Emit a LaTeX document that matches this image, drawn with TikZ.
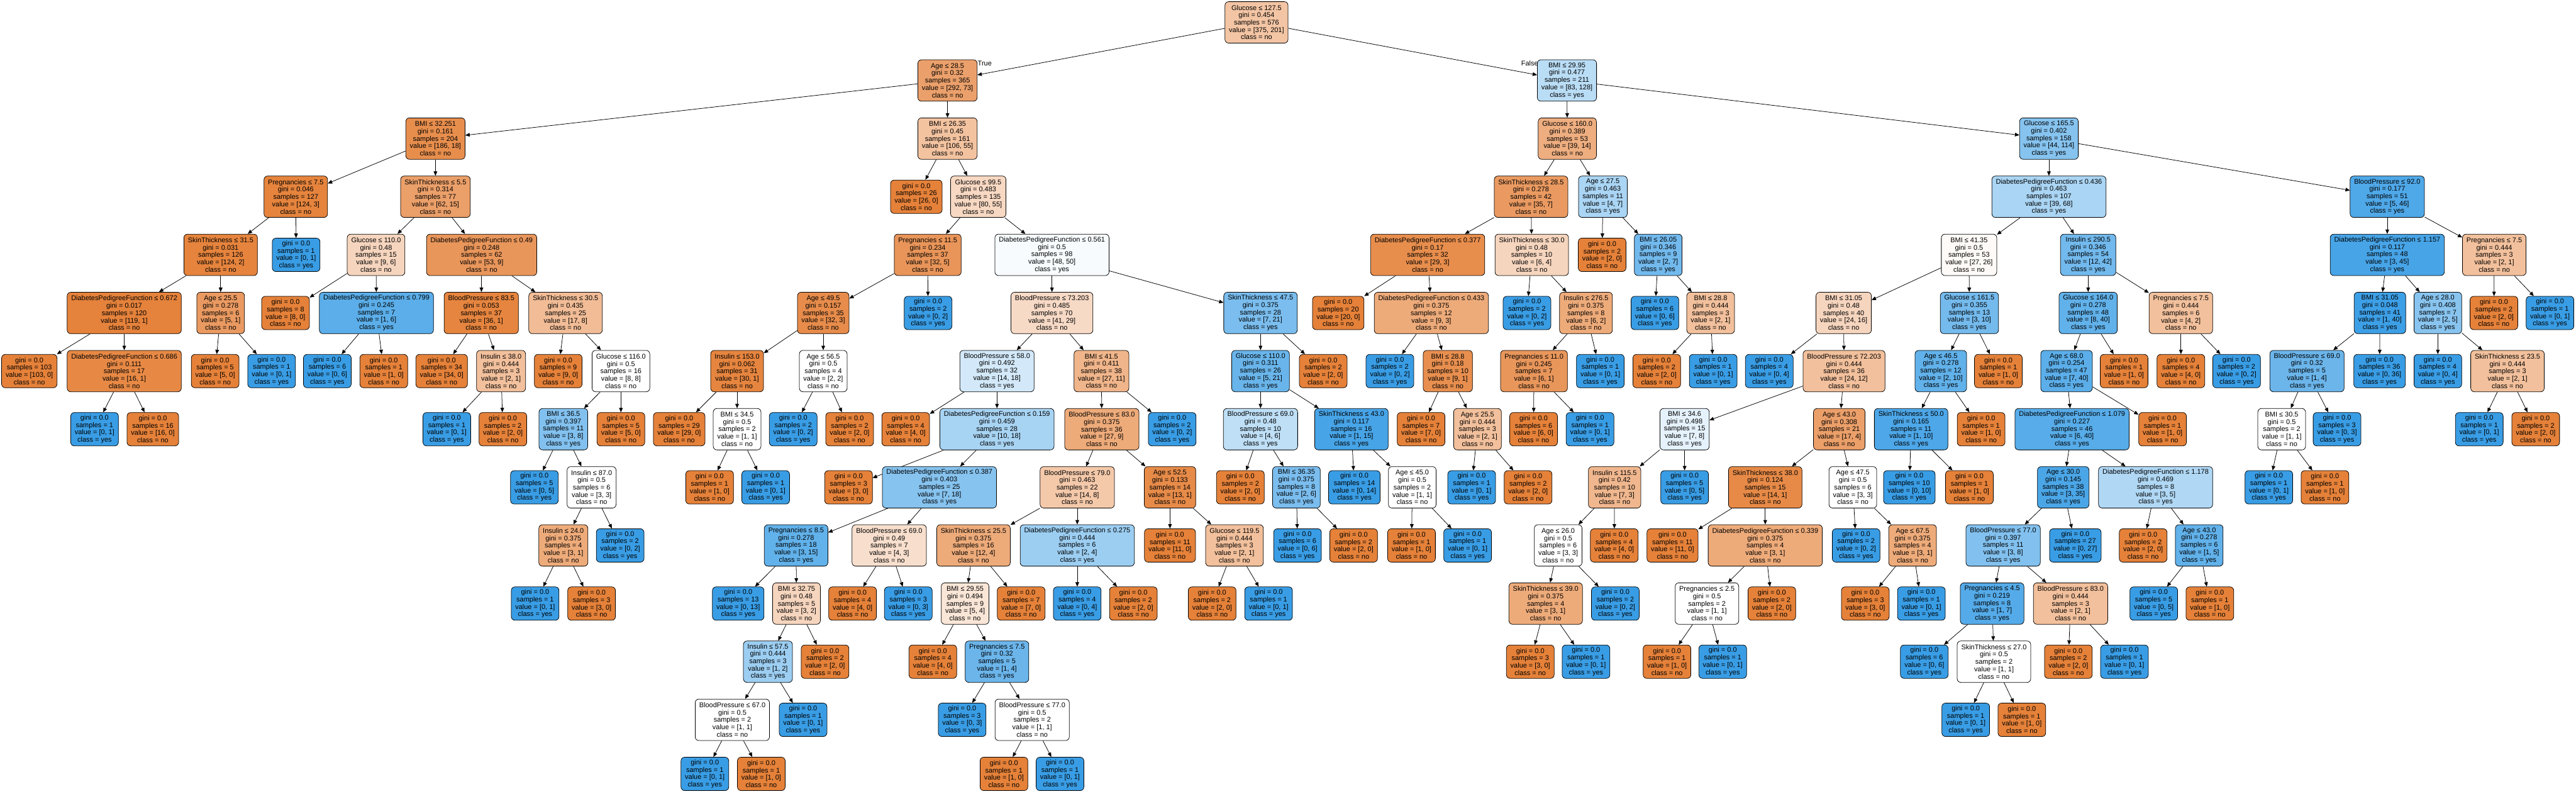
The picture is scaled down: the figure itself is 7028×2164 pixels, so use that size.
\documentclass[tikz,border=0pt]{standalone}
\usepackage{fontspec}
\setmainfont{Liberation Sans}
\usetikzlibrary{arrows.meta}
\definecolor{cno}{RGB}{229,129,57}
\definecolor{cyes}{RGB}{57,157,229}
\newcommand\tfont{\fontsize{18.8}{20.1}\selectfont}
\newcommand\setcls[2]{%
  \ifnum#1<#2\relax
    \def\tcls{yes}\def\tcol{cyes}%
    \edef\tpct{\the\numexpr(100*(#2-#1))/#2\relax}%
  \else
    \def\tcls{no}\def\tcol{cno}%
    \edef\tpct{\the\numexpr(100*(#1-#2))/#1\relax}%
  \fi}
\newcommand\setY[1]{\ifnum#1=13 \def\ty{2110.5}\else\pgfmathsetmacro\ty{61+158.5*#1}\fi}
% name parent x level cond gini a b
\newcommand\tnode[8]{%
  \setcls{#7}{#8}\setY{#4}%
  \node[tbox, fill=\tcol!\tpct!white] (#1) at (#3,\ty) {#5\\gini = #6\\samples = \the\numexpr#7+#8\relax\\value = [#7, #8]\\class = \tcls};
  \ifx\relax#2\relax\else\draw[tedge] (#2) -- (#1);\fi}
% name parent x level a b
\newcommand\lnode[6]{%
  \setcls{#5}{#6}\setY{#4}%
  \node[tbox, tleaf, fill=\tcol!\tpct!white] (#1) at (#3,\ty) {gini = 0.0\\samples = \the\numexpr#5+#6\relax\\value = [#5, #6]\\class = \tcls};
  \draw[tedge] (#2) -- (#1);}
\begin{document}
\begin{tikzpicture}[x=1pt,y=-1pt,
  tbox/.style={draw=black, line width=1.3pt, rounded corners=10pt, align=center,
    inner xsep=11pt, inner ysep=0pt, minimum height=113pt, font=\tfont, text=black},
  tleaf/.style={minimum height=91pt},
  tedge/.style={-{Triangle[length=12pt,width=10pt]}, line width=1.3pt, black},
  lbl/.style={font=\tfont, inner sep=0pt}]
\fill[white] (0,0) rectangle (7028,2164);
\useasboundingbox (0,0) rectangle (7028,2164);
% level 0-2
\tnode{t}{}{3428}{0}{Glucose ≤ 127.5}{0.454}{375}{201}
\tnode{n1}{t}{2585}{1}{Age ≤ 28.5}{0.32}{292}{73}
\tnode{n2}{t}{4275}{1}{BMI ≤ 29.95}{0.477}{83}{128}
\tnode{a}{n1}{1188}{2}{BMI ≤ 32.251}{0.161}{186}{18}
\tnode{b}{n1}{2585}{2}{BMI ≤ 26.35}{0.45}{106}{55}
\tnode{c}{n2}{4276}{2}{Glucose ≤ 160.0}{0.389}{39}{14}
\tnode{d}{n2}{5590}{2}{Glucose ≤ 165.5}{0.402}{44}{114}
% level 3
\tnode{aa}{a}{807}{3}{Pregnancies ≤ 7.5}{0.046}{124}{3}
\tnode{ab}{a}{1188}{3}{SkinThickness ≤ 5.5}{0.314}{62}{15}
\lnode{ba}{b}{2500}{3}{26}{0}
\tnode{bb}{b}{2669}{3}{Glucose ≤ 99.5}{0.483}{80}{55}
\tnode{ca}{c}{4177}{3}{SkinThickness ≤ 28.5}{0.278}{35}{7}
\tnode{cb}{c}{4373}{3}{Age ≤ 27.5}{0.463}{4}{7}
\tnode{da}{d}{5590}{3}{DiabetesPedigreeFunction ≤ 0.436}{0.463}{39}{68}
\tnode{db}{d}{6513}{3}{BloodPressure ≤ 92.0}{0.177}{5}{46}
% level 4
\tnode{aaa}{aa}{602}{4}{SkinThickness ≤ 31.5}{0.031}{124}{2}
\lnode{aab}{aa}{808}{4}{0}{1}
\tnode{aba}{ab}{1026}{4}{Glucose ≤ 110.0}{0.48}{9}{6}
\tnode{abb}{ab}{1314}{4}{DiabetesPedigreeFunction ≤ 0.49}{0.248}{53}{9}
\tnode{bba}{bb}{2531}{4}{Pregnancies ≤ 11.5}{0.234}{32}{5}
\tnode{bbb}{bb}{2870}{4}{DiabetesPedigreeFunction ≤ 0.561}{0.5}{48}{50}
\tnode{caa}{ca}{3895}{4}{DiabetesPedigreeFunction ≤ 0.377}{0.17}{29}{3}
\tnode{cab}{ca}{4179}{4}{SkinThickness ≤ 30.0}{0.48}{6}{4}
\lnode{cba}{cb}{4371}{4}{2}{0}
\tnode{cbb}{cb}{4524}{4}{BMI ≤ 26.05}{0.346}{2}{7}
\tnode{daa}{da}{5372}{4}{BMI ≤ 41.35}{0.5}{27}{26}
\tnode{dab}{da}{5697}{4}{Insulin ≤ 290.5}{0.346}{12}{42}
\tnode{dba}{db}{6513}{4}{DiabetesPedigreeFunction ≤ 1.157}{0.117}{3}{45}
\tnode{dbb}{db}{6805}{4}{Pregnancies ≤ 7.5}{0.444}{2}{1}
% level 5
\tnode{aaaa}{aaa}{339}{5}{DiabetesPedigreeFunction ≤ 0.672}{0.017}{119}{1}
\tnode{aaab}{aaa}{602}{5}{Age ≤ 25.5}{0.278}{5}{1}
\lnode{abaa}{aba}{779}{5}{8}{0}
\tnode{abab}{aba}{1027}{5}{DiabetesPedigreeFunction ≤ 0.799}{0.245}{1}{6}
\tnode{abba}{abb}{1313}{5}{BloodPressure ≤ 83.5}{0.053}{36}{1}
\tnode{abbb}{abb}{1543}{5}{SkinThickness ≤ 30.5}{0.435}{17}{8}
\tnode{bbaa}{bba}{2246}{5}{Age ≤ 49.5}{0.157}{32}{3}
\lnode{bbab}{bba}{2532}{5}{0}{2}
\tnode{bbba}{bbb}{2870}{5}{BloodPressure ≤ 73.203}{0.485}{41}{29}
\tnode{bbbb}{bbb}{3439}{5}{SkinThickness ≤ 47.5}{0.375}{7}{21}
\lnode{caaa}{caa}{3651}{5}{20}{0}
\tnode{caab}{caa}{3905}{5}{DiabetesPedigreeFunction ≤ 0.433}{0.375}{9}{3}
\lnode{caba}{cab}{4166}{5}{0}{2}
\tnode{cabb}{cab}{4327}{5}{Insulin ≤ 276.5}{0.375}{6}{2}
\lnode{cbba}{cbb}{4515}{5}{0}{6}
\tnode{cbbb}{cbb}{4667}{5}{BMI ≤ 28.8}{0.444}{2}{1}
\tnode{daaa}{daa}{5030}{5}{BMI ≤ 31.05}{0.48}{24}{16}
\tnode{daab}{daa}{5373}{5}{Glucose ≤ 161.5}{0.355}{3}{10}
\tnode{daba}{dab}{5697}{5}{Glucose ≤ 164.0}{0.278}{8}{40}
\tnode{dabb}{dab}{5950}{5}{Pregnancies ≤ 7.5}{0.444}{4}{2}
\tnode{dbaa}{dba}{6493}{5}{BMI ≤ 31.05}{0.048}{1}{40}
\tnode{dbab}{dba}{6651}{5}{Age ≤ 28.0}{0.408}{2}{5}
\lnode{dbba}{dbb}{6804}{5}{2}{0}
\lnode{dbbb}{dbb}{6957}{5}{0}{1}
% level 6
\lnode{aaaaa}{aaaa}{80}{6}{103}{0}
\tnode{aaaab}{aaaa}{339}{6}{DiabetesPedigreeFunction ≤ 0.686}{0.111}{16}{1}
\lnode{aaaba}{aaab}{587}{6}{5}{0}
\lnode{aaabb}{aaab}{741}{6}{0}{1}
\lnode{ababa}{abab}{893}{6}{0}{6}
\lnode{ababb}{abab}{1047}{6}{1}{0}
\lnode{abbaa}{abba}{1205}{6}{34}{0}
\tnode{abbab}{abba}{1367}{6}{Insulin ≤ 38.0}{0.444}{2}{1}
\lnode{abbba}{abbb}{1523}{6}{9}{0}
\tnode{abbbb}{abbb}{1694}{6}{Glucose ≤ 116.0}{0.5}{8}{8}
\tnode{bbaaa}{bbaa}{2011}{6}{Insulin ≤ 153.0}{0.062}{30}{1}
\tnode{bbaab}{bbaa}{2246}{6}{Age ≤ 56.5}{0.5}{2}{2}
\tnode{bbbaa}{bbba}{2720}{6}{BloodPressure ≤ 58.0}{0.492}{14}{18}
\tnode{bbbab}{bbba}{3005}{6}{BMI ≤ 41.5}{0.411}{27}{11}
\tnode{bbbba}{bbbb}{3439}{6}{Glucose ≤ 110.0}{0.311}{5}{21}
\lnode{bbbbb}{bbbb}{3610}{6}{2}{0}
\lnode{caaba}{caab}{3792}{6}{0}{2}
\tnode{caabb}{caab}{3950}{6}{BMI ≤ 28.8}{0.18}{9}{1}
\tnode{cabba}{cabb}{4185}{6}{Pregnancies ≤ 11.0}{0.245}{6}{1}
\lnode{cabbb}{cabb}{4366}{6}{0}{1}
\lnode{cbbba}{cbbb}{4520}{6}{2}{0}
\lnode{cbbbb}{cbbb}{4674}{6}{0}{1}
\lnode{daaaa}{daaa}{4827}{6}{0}{4}
\tnode{daaab}{daaa}{5031}{6}{BloodPressure ≤ 72.203}{0.444}{24}{12}
\tnode{daaba}{daab}{5295}{6}{Age ≤ 46.5}{0.278}{2}{10}
\lnode{daabb}{daab}{5452}{6}{1}{0}
\tnode{dabaa}{daba}{5638}{6}{Age ≤ 68.0}{0.254}{7}{40}
\lnode{dabab}{daba}{5795}{6}{1}{0}
\lnode{dabba}{dabb}{5950}{6}{4}{0}
\lnode{dabbb}{dabb}{6102}{6}{0}{2}
\tnode{dbaaa}{dbaa}{6294}{6}{BloodPressure ≤ 69.0}{0.32}{1}{4}
\lnode{dbaab}{dbaa}{6492}{6}{0}{36}
\lnode{dbaba}{dbab}{6651}{6}{0}{4}
\tnode{dbabb}{dbab}{6841}{6}{SkinThickness ≤ 23.5}{0.444}{2}{1}
% level 7
\lnode{aaaaba}{aaaab}{258}{7}{0}{1}
\lnode{aaaabb}{aaaab}{417}{7}{16}{0}
\lnode{abbaba}{abbab}{1219}{7}{0}{1}
\lnode{abbabb}{abbab}{1372}{7}{2}{0}
\tnode{abbbba}{abbbb}{1537}{7}{BMI ≤ 36.5}{0.397}{3}{8}
\lnode{abbbbb}{abbbb}{1694}{7}{5}{0}
\lnode{bbaaaa}{bbaaa}{1853}{7}{29}{0}
\tnode{bbaaab}{bbaaa}{2011}{7}{BMI ≤ 34.5}{0.5}{1}{1}
\lnode{bbaaba}{bbaab}{2164}{7}{0}{2}
\lnode{bbaabb}{bbaab}{2318}{7}{2}{0}
\lnode{bbbaaa}{bbbaa}{2471}{7}{4}{0}
\tnode{bbbaab}{bbbaa}{2720}{7}{DiabetesPedigreeFunction ≤ 0.159}{0.459}{10}{18}
\tnode{bbbaba}{bbbab}{3006}{7}{BloodPressure ≤ 83.0}{0.375}{27}{9}
\lnode{bbbabb}{bbbab}{3198}{7}{0}{2}
\tnode{bbbbaa}{bbbba}{3439}{7}{BloodPressure ≤ 69.0}{0.48}{4}{6}
\tnode{bbbbab}{bbbba}{3687}{7}{SkinThickness ≤ 43.0}{0.117}{1}{15}
\lnode{caabba}{caabb}{3877}{7}{7}{0}
\tnode{caabbb}{caabb}{4031}{7}{Age ≤ 25.5}{0.444}{2}{1}
\lnode{cabbaa}{cabba}{4184}{7}{6}{0}
\lnode{cabbab}{cabba}{4338}{7}{0}{1}
\tnode{daaaba}{daaab}{4596}{7}{BMI ≤ 34.6}{0.498}{7}{8}
\tnode{daaabb}{daaab}{5018}{7}{Age ≤ 43.0}{0.308}{17}{4}
\tnode{daabaa}{daaba}{5214}{7}{SkinThickness ≤ 50.0}{0.165}{1}{10}
\lnode{daabab}{daaba}{5405}{7}{1}{0}
\tnode{dabaaa}{dabaa}{5653}{7}{DiabetesPedigreeFunction ≤ 1.079}{0.227}{6}{40}
\lnode{dabaab}{dabaa}{5900}{7}{1}{0}
\tnode{dbaaaa}{dbaaa}{6225}{7}{BMI ≤ 30.5}{0.5}{1}{1}
\lnode{dbaaab}{dbaaa}{6376}{7}{0}{3}
\lnode{dbabba}{dbabb}{6764}{7}{0}{1}
\lnode{dbabbb}{dbabb}{6918}{7}{2}{0}
% level 8
\lnode{abbbbaa}{abbbba}{1458}{8}{0}{5}
\tnode{abbbbab}{abbbba}{1614}{8}{Insulin ≤ 87.0}{0.5}{3}{3}
\lnode{bbaaaba}{bbaaab}{1936}{8}{1}{0}
\lnode{bbaaabb}{bbaaab}{2089}{8}{0}{1}
\lnode{bbbaaba}{bbbaab}{2315}{8}{3}{0}
\tnode{bbbaabb}{bbbaab}{2563}{8}{DiabetesPedigreeFunction ≤ 0.387}{0.403}{7}{18}
\tnode{bbbabaa}{bbbaba}{2939}{8}{BloodPressure ≤ 79.0}{0.463}{14}{8}
\tnode{bbbabab}{bbbaba}{3192}{8}{Age ≤ 52.5}{0.133}{13}{1}
\lnode{bbbbaaa}{bbbbaa}{3384}{8}{2}{0}
\tnode{bbbbaab}{bbbbaa}{3537}{8}{BMI ≤ 36.35}{0.375}{2}{6}
\lnode{bbbbaba}{bbbbab}{3695}{8}{0}{14}
\tnode{bbbbabb}{bbbbab}{3853}{8}{Age ≤ 45.0}{0.5}{1}{1}
\lnode{caabbba}{caabbb}{4015}{8}{0}{1}
\lnode{caabbbb}{caabbb}{4169}{8}{2}{0}
\tnode{daaabaa}{daaaba}{4405}{8}{Insulin ≤ 115.5}{0.42}{7}{3}
\lnode{daaabab}{daaaba}{4596}{8}{0}{5}
\tnode{daaabba}{daaabb}{4816}{8}{SkinThickness ≤ 38.0}{0.124}{14}{1}
\tnode{daaabbb}{daaabb}{5055}{8}{Age ≤ 47.5}{0.5}{3}{3}
\lnode{daabaaa}{daabaa}{5209}{8}{0}{10}
\lnode{daabaab}{daabaa}{5373}{8}{1}{0}
\tnode{dabaaaa}{dabaaa}{5629}{8}{Age ≤ 30.0}{0.145}{3}{35}
\tnode{dabaaab}{dabaaa}{5881}{8}{DiabetesPedigreeFunction ≤ 1.178}{0.469}{3}{5}
\lnode{dbaaaaa}{dbaaaa}{6190}{8}{0}{1}
\lnode{dbaaaab}{dbaaaa}{6343}{8}{1}{0}
% level 9
\tnode{abbbbaba}{abbbbab}{1537}{9}{Insulin ≤ 24.0}{0.375}{3}{1}
\lnode{abbbbabb}{abbbbab}{1692}{9}{0}{2}
\tnode{bbbaabba}{bbbaabb}{2172}{9}{Pregnancies ≤ 8.5}{0.278}{3}{15}
\tnode{bbbaabbb}{bbbaabb}{2426}{9}{BloodPressure ≤ 69.0}{0.49}{4}{3}
\tnode{bbbabaaa}{bbbabaa}{2656}{9}{SkinThickness ≤ 25.5}{0.375}{12}{4}
\tnode{bbbabaab}{bbbabaa}{2939}{9}{DiabetesPedigreeFunction ≤ 0.275}{0.444}{2}{4}
\lnode{bbbababa}{bbbabab}{3192}{9}{11}{0}
\tnode{bbbababb}{bbbabab}{3368}{9}{Glucose ≤ 119.5}{0.444}{2}{1}
\lnode{bbbbaaba}{bbbbaab}{3540}{9}{0}{6}
\lnode{bbbbaabb}{bbbbaab}{3693}{9}{2}{0}
\lnode{bbbbabba}{bbbbabb}{3851}{9}{1}{0}
\lnode{bbbbabbb}{bbbbabb}{4004}{9}{0}{1}
\tnode{daaabaaa}{daaabaa}{4251}{9}{Age ≤ 26.0}{0.5}{3}{3}
\lnode{daaabaab}{daaabaa}{4404}{9}{4}{0}
\lnode{daaabbaa}{daaabba}{4563}{9}{11}{0}
\tnode{daaabbab}{daaabba}{4816}{9}{DiabetesPedigreeFunction ≤ 0.339}{0.375}{3}{1}
\lnode{daaabbba}{daaabbb}{5064}{9}{0}{2}
\tnode{daaabbbb}{daaabbb}{5218}{9}{Age ≤ 67.5}{0.375}{3}{1}
\tnode{dabaaaaa}{dabaaaa}{5465}{9}{BloodPressure ≤ 77.0}{0.397}{3}{8}
\lnode{dabaaaab}{dabaaaa}{5662}{9}{0}{27}
\lnode{dabaaaba}{dabaaab}{5847}{9}{2}{0}
\tnode{dabaaabb}{dabaaab}{6000}{9}{Age ≤ 43.0}{0.278}{1}{5}
% level 10
\lnode{abbbbabaa}{abbbbaba}{1460}{10}{0}{1}
\lnode{abbbbabab}{abbbbaba}{1614}{10}{3}{0}
\lnode{bbbaabbaa}{bbbaabba}{2014}{10}{0}{13}
\tnode{bbbaabbab}{bbbaabba}{2173}{10}{BMI ≤ 32.75}{0.48}{3}{2}
\lnode{bbbaabbba}{bbbaabbb}{2326}{10}{4}{0}
\lnode{bbbaabbbb}{bbbaabbb}{2478}{10}{0}{3}
\tnode{bbbabaaaa}{bbbabaaa}{2633}{10}{BMI ≤ 29.55}{0.494}{5}{4}
\lnode{bbbabaaab}{bbbabaaa}{2786}{10}{7}{0}
\lnode{bbbabaaba}{bbbabaab}{2939}{10}{0}{4}
\lnode{bbbabaabb}{bbbabaab}{3092}{10}{2}{0}
\lnode{bbbababba}{bbbababb}{3307}{10}{2}{0}
\lnode{bbbababbb}{bbbababb}{3461}{10}{0}{1}
\tnode{daaabaaaa}{daaabaaa}{4217}{10}{SkinThickness ≤ 39.0}{0.375}{3}{1}
\lnode{daaabaaab}{daaabaaa}{4407}{10}{0}{2}
\tnode{daaabbaba}{daaabbab}{4657}{10}{Pregnancies ≤ 2.5}{0.5}{1}{1}
\lnode{daaabbabb}{daaabbab}{4834}{10}{2}{0}
\lnode{daaabbbba}{daaabbbb}{5089}{10}{3}{0}
\lnode{daaabbbbb}{daaabbbb}{5242}{10}{0}{1}
\tnode{dabaaaaaa}{dabaaaaa}{5435}{10}{Pregnancies ≤ 4.5}{0.219}{1}{7}
\tnode{dabaaaaab}{dabaaaaa}{5649}{10}{BloodPressure ≤ 83.0}{0.444}{2}{1}
\lnode{dabaaabba}{dabaaabb}{5876}{10}{0}{5}
\lnode{dabaaabbb}{dabaaabb}{6029}{10}{1}{0}
% level 11
\tnode{bbbaabbaba}{bbbaabbab}{2095}{11}{Insulin ≤ 57.5}{0.444}{1}{2}
\lnode{bbbaabbabb}{bbbaabbab}{2251}{11}{2}{0}
\lnode{bbbabaaaaa}{bbbabaaaa}{2545}{11}{4}{0}
\tnode{bbbabaaaab}{bbbabaaaa}{2720}{11}{Pregnancies ≤ 7.5}{0.32}{1}{4}
\lnode{daaabaaaaa}{daaabaaaa}{4175}{11}{3}{0}
\lnode{daaabaaaab}{daaabaaaa}{4327}{11}{0}{1}
\lnode{daaabbabaa}{daaabbaba}{4548}{11}{1}{0}
\lnode{daaabbabab}{daaabbaba}{4700}{11}{0}{1}
\lnode{dabaaaaaaa}{dabaaaaaa}{5250}{11}{0}{6}
\tnode{dabaaaaaab}{dabaaaaaa}{5440}{11}{SkinThickness ≤ 27.0}{0.5}{1}{1}
\lnode{dabaaaaaba}{dabaaaaab}{5643}{11}{2}{0}
\lnode{dabaaaaabb}{dabaaaaab}{5796}{11}{0}{1}
% level 12
\tnode{bbbaabbabaa}{bbbaabbaba}{1998}{12}{BloodPressure ≤ 67.0}{0.5}{1}{1}
\lnode{bbbaabbabab}{bbbaabbaba}{2191}{12}{0}{1}
\lnode{bbbabaaaaba}{bbbabaaaab}{2625}{12}{0}{3}
\tnode{bbbabaaaabb}{bbbabaaaab}{2816}{12}{BloodPressure ≤ 77.0}{0.5}{1}{1}
\lnode{dabaaaaaaba}{dabaaaaaab}{5363}{12}{0}{1}
\lnode{dabaaaaaabb}{dabaaaaaab}{5516}{12}{1}{0}
% level 13
\lnode{bbbaabbabaaa}{bbbaabbabaa}{1923}{13}{0}{1}
\lnode{bbbaabbabaab}{bbbaabbabaa}{2077}{13}{1}{0}
\lnode{bbbabaaaabba}{bbbabaaaabb}{2739}{13}{1}{0}
\lnode{bbbabaaaabbb}{bbbabaaaabb}{2892}{13}{0}{1}
% edge labels
\node[lbl, anchor=base west] (truelbl) at ([xshift=1pt,yshift=-17pt]n1.north east) {True};
\node[lbl, anchor=base east] (falselbl) at ([xshift=3pt,yshift=-17pt]n2.north west) {False};
\end{tikzpicture}
\end{document}
